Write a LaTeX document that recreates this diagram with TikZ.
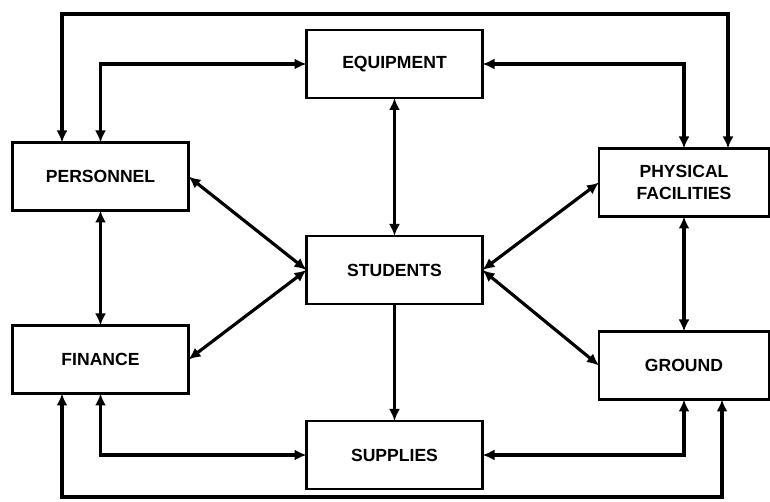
\documentclass[tikz,border=0pt]{standalone}
\usepackage{fontspec}
\setmainfont{Liberation Sans}
\usetikzlibrary{arrows.meta}

\begin{document}
\begin{tikzpicture}[x=0.2mm,y=-0.2mm,
    unit/.style={draw,line width=1.3pt,minimum width=35.2mm,minimum height=13.6mm,font=\bfseries,align=center,inner sep=2pt,outer sep=0pt},
    sideunit/.style={unit,minimum width=34mm},
    link/.style={line width=1.8pt,{Latex[length=2.4mm,width=2.2mm]}-{Latex[length=2.4mm,width=2.2mm]}},
    oneway/.style={line width=1.8pt,-{Latex[length=2.4mm,width=2.2mm]}}]

    \useasboundingbox (0,0) rectangle (770,502);

    \node[unit] (equip) at (394.5,64) {EQUIPMENT};
    \node[unit] (pers) at (100.5,176.5) {PERSONNEL};
    \node[sideunit] (phys) at (684,182.5) {PHYSICAL\\FACILITIES};
    \node[unit] (stud) at (394.5,270) {STUDENTS};
    \node[unit] (fin) at (100.5,359.5) {FINANCE};
    \node[sideunit] (ground) at (684,365.5) {GROUND};
    \node[unit] (sup) at (394.5,455) {SUPPLIES};

    \coordinate (topL) at (62,14);
    \coordinate (topR) at (728,14);
    \coordinate (botL) at (62,497);
    \coordinate (botR) at (722,497);

    \draw[link] (pers.north -| topL) -- (topL) -- (topR) -- (phys.north -| topR);
    \draw[link] (pers.north) |- (equip.west);
    \draw[link] (equip.east) -| (phys.north);

    \draw[link] (equip.south) -- (stud.north);
    \draw[oneway] (stud.south) -- (sup.north);
    \draw[link] (pers.south) -- (fin.north);
    \draw[link] (phys.south) -- (ground.north);

    \draw[link] (pers.east) -- (stud.west);
    \draw[link] (fin.east) -- (stud.west);
    \draw[link] (phys.west) -- (stud.east);
    \draw[link] (ground.west) -- (stud.east);

    \draw[link] (fin.south) |- (sup.west);
    \draw[link] (sup.east) -| (ground.south);
    \draw[link] (fin.south -| botL) -- (botL) -- (botR) -- (ground.south -| botR);

\end{tikzpicture}
\end{document}
